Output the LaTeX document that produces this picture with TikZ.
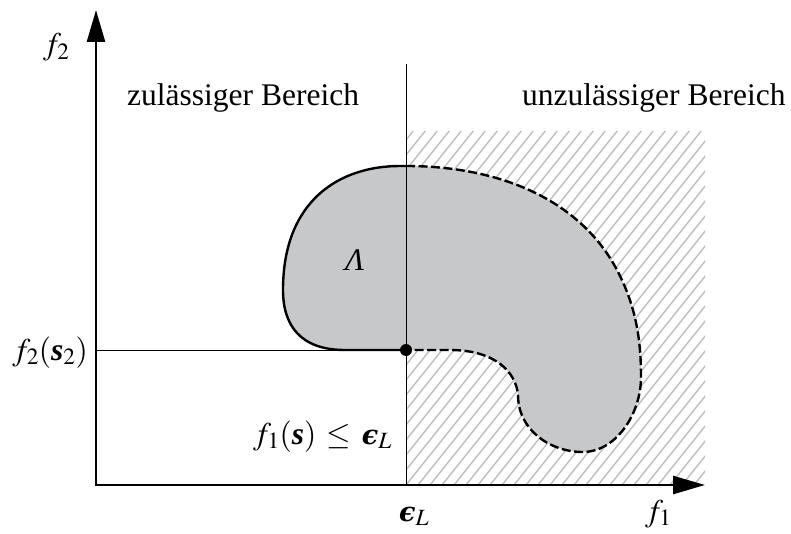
\documentclass[tikz,border=0pt]{standalone}
\usepackage{amsmath}
\usepackage{mathptmx}
\usepackage{fontspec}
\setmainfont{Liberation Serif}
\newfontfamily\epsfont{DejaVu Serif}
\usetikzlibrary{arrows.meta}
\definecolor{regiongray}{RGB}{199,200,202}
\definecolor{hatchgray}{RGB}{190,190,190}
\newcommand{\vs}{\mbox{\bfseries\itshape s}}
\newcommand{\epsL}{\mbox{\epsfont\bfseries\itshape\fontsize{27}{30}\selectfont ϵ}_L}

\begin{document}
\begin{tikzpicture}[x=1pt,y=-1pt,font=\fontsize{31.5}{36}\selectfont]
\tikzset{axis/.style = {line width=2.6pt, {Triangle[length=32pt,width=18pt]}-{Triangle[length=32pt,width=18pt]}}}
\tikzset{thinline/.style = {line width=0.9pt}}
\tikzset{hatchline/.style = {hatchgray, line width=1.4pt}}
\tikzset{border/.style = {line width=2.4pt}}
\tikzset{dashborder/.style = {line width=2.4pt, dash pattern=on 9pt off 3.5pt}}
\tikzset{dpoint/.style = {circle, fill=black, inner sep=0pt, minimum size=12pt}}
\tikzset{lbl/.style = {inner sep=0pt}}
\useasboundingbox (0,0) rectangle (791,534);

\coordinate (O) at (96,485);
\coordinate (ytop) at (96,10);
\coordinate (xtip) at (705,485);
\coordinate (eTop) at (406,64);
\coordinate (eBot) at (406,485);
\coordinate (sLeft) at (96,350);

% hatched region
\begin{scope}
    \clip (406,132) rectangle (705,485);
    \foreach \x in {106,118,...,718}
        \draw[hatchline] (\x,485) -- ++(300,-375);
\end{scope}

% region Lambda
\fill[regiongray] (406,350) -- (345,350)
    .. controls (300,350) and (283,325) .. (283,290)
    .. controls (283,200) and (340,166) .. (400,166) -- (406,166)
    .. controls (500,166) and (580,200) .. (617,270)
    .. controls (636,306) and (641,340) .. (641,377)
    .. controls (641,415) and (615,452) .. (583,452)
    .. controls (550,452) and (518,430) .. (518,395)
    .. controls (516,372) and (495,350) .. (450,350) -- cycle;
\draw[border] (406,350) -- (345,350)
    .. controls (300,350) and (283,325) .. (283,290)
    .. controls (283,200) and (340,166) .. (400,166) -- (406,166);
\draw[dashborder] (406,166)
    .. controls (500,166) and (580,200) .. (617,270)
    .. controls (636,306) and (641,340) .. (641,377)
    .. controls (641,415) and (615,452) .. (583,452)
    .. controls (550,452) and (518,430) .. (518,395)
    .. controls (516,372) and (495,350) .. (450,350) -- (406,350);

\node[dpoint] (P) at (406,350) {};

\draw[thinline] (eTop) -- (eBot);
\draw[thinline] (sLeft) -- (P);
\draw[axis] (ytop) -- (O) -- (xtip);

    \node[lbl, anchor=base west] (f2) at (43,55) {$f_2$};
    \node[lbl, anchor=base west] (f1) at (645,521) {$f_1$};
    \node[lbl, anchor=base west] (eps) at (399,521) {$\epsL$};
    \node[lbl, anchor=base east] (f2s2) at (88,360) {$f_2(\vs_2)$};
    \node[lbl, anchor=base east] (cond) at (392,444) {$f_1(\vs)\,\leq\,\epsL$};
    \node[lbl, anchor=base west] (lam) at (345,270) {\textit{Λ}};
    \node[lbl, anchor=base west] (zul) at (127,106) {zulässiger Bereich};
    \node[lbl, anchor=base west] (unzul) at (522,106) {unzulässiger Bereich};
\end{tikzpicture}
\end{document}
